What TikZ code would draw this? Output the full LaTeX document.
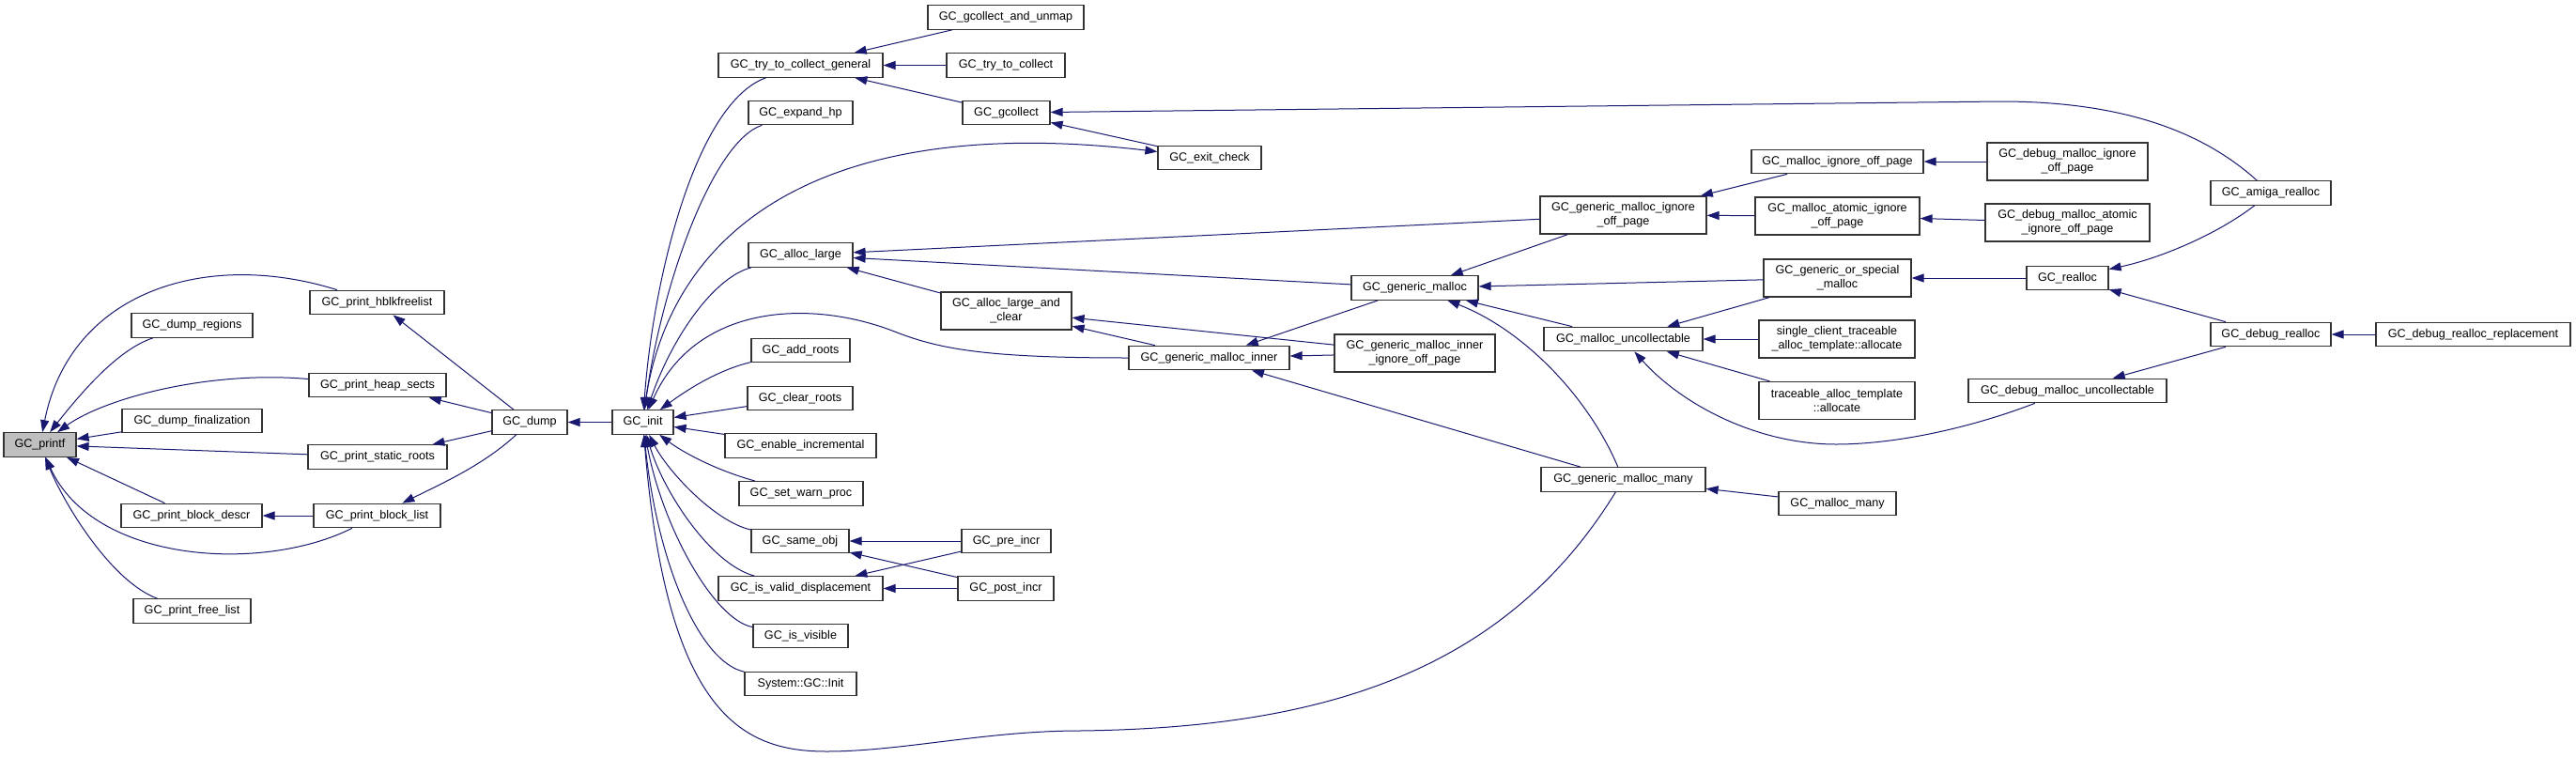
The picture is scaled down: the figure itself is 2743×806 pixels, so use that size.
\documentclass[tikz,border=0pt]{standalone}
\usepackage{fontspec}
\setmainfont{Liberation Sans}
\usetikzlibrary{arrows.meta}
\definecolor{edgecol}{HTML}{191970}
\definecolor{boxline}{HTML}{333333}
\definecolor{hlfill}{HTML}{BFBFBF}
\begin{document}
\begin{tikzpicture}[x=1pt,y=-1pt,
  font=\fontsize{12.6}{15}\selectfont,
  fn/.style={draw=boxline, line width=1.2pt, fill=white, inner sep=0pt,
             minimum height=25.5pt, align=center, rectangle},
  fntwo/.style={fn, minimum height=40pt},
  calledge/.style={draw=edgecol, line width=1pt, -{Triangle[length=13pt,width=9pt]}}]
\fill[white] (0,0) rectangle (2743,806);
\useasboundingbox (0,0) rectangle (2743,806);

% ---------- nodes ----------
\node[fn, minimum width=77pt, fill=hlfill] (printf) at (42.5,473.5) {GC\_printf};
\node[fn, minimum width=143pt] (hblk) at (401.5,322) {GC\_print\_hblkfreelist};
\node[fn, minimum width=129pt] (dumpreg) at (204.5,346.5) {GC\_dump\_regions};
\node[fn, minimum width=146pt] (heap) at (402,410) {GC\_print\_heap\_sects};
\node[fn, minimum width=149pt] (dumpfin) at (204.5,448) {GC\_dump\_finalization};
\node[fn, minimum width=148pt] (static) at (402,486.5) {GC\_print\_static\_roots};
\node[fn, minimum width=150pt] (bdescr) at (204,549) {GC\_print\_block\_descr};
\node[fn, minimum width=135pt] (blist) at (401.5,549) {GC\_print\_block\_list};
\node[fn, minimum width=125pt] (free) at (204.5,650.5) {GC\_print\_free\_list};
\node[fn, minimum width=80pt] (dump) at (564,449.5) {GC\_dump};
\node[fn, minimum width=65pt] (init) at (684.5,449.5) {GC\_init};

\node[fn, minimum width=166pt] (unmap) at (1071,18.5) {GC\_gcollect\_and\_unmap};
\node[fn, minimum width=175pt] (tcg) at (852.5,69.5) {GC\_try\_to\_collect\_general};
\node[fn, minimum width=126pt] (ttc) at (1071,69.5) {GC\_try\_to\_collect};
\node[fn, minimum width=111pt] (expand) at (852.5,120) {GC\_expand\_hp};
\node[fn, minimum width=93pt] (gcollect) at (1071.5,120) {GC\_gcollect};
\node[fn, minimum width=110pt] (exitc) at (1288,168) {GC\_exit\_check};
\node[fn, minimum width=111pt] (alarge) at (852.5,271.5) {GC\_alloc\_large};
\node[fntwo, minimum width=139pt] (alac) at (1071.5,331) {GC\_alloc\_large\_and\\\_clear};
\node[fn, minimum width=171pt] (gmi) at (1287.5,381) {GC\_generic\_malloc\_inner};
\node[fn, minimum width=105pt] (addr) at (852.5,373) {GC\_add\_roots};
\node[fn, minimum width=112pt] (clearr) at (852,424) {GC\_clear\_roots};
\node[fn, minimum width=161pt] (enable) at (852.5,474.5) {GC\_enable\_incremental};
\node[fn, minimum width=132pt] (setwarn) at (853,525.5) {GC\_set\_warn\_proc};
\node[fn, minimum width=104pt] (same) at (852,576) {GC\_same\_obj};
\node[fn, minimum width=95pt] (pre) at (1071.5,576) {GC\_pre\_incr};
\node[fn, minimum width=175pt] (valid) at (852.5,626.5) {GC\_is\_valid\_displacement};
\node[fn, minimum width=102pt] (post) at (1071,626.5) {GC\_post\_incr};
\node[fn, minimum width=101pt] (visible) at (852.5,677) {GC\_is\_visible};
\node[fn, minimum width=119pt] (sysinit) at (852.5,728) {System::GC::Init};

\node[fn, minimum width=183pt] (mio) at (1956.5,172) {GC\_malloc\_ignore\_off\_page};
\node[fntwo, minimum width=177pt] (gmio) at (1728.5,229) {GC\_generic\_malloc\_ignore\\\_off\_page};
\node[fntwo, minimum width=175pt] (maio) at (1956.5,230) {GC\_malloc\_atomic\_ignore\\\_off\_page};
\node[fn, minimum width=135pt] (gm) at (1506.5,306.5) {GC\_generic\_malloc};
\node[fntwo, minimum width=157pt] (gosm) at (1956.5,296) {GC\_generic\_or\_special\\\_malloc};
\node[fn, minimum width=169pt] (mu) at (1728.5,361) {GC\_malloc\_uncollectable};
\node[fntwo, minimum width=166pt] (sct) at (1956,361) {single\_client\_traceable\\\_alloc\_template::allocate};
\node[fntwo, minimum width=171pt] (gmiio) at (1506.5,376) {GC\_generic\_malloc\_inner\\\_ignore\_off\_page};
\node[fntwo, minimum width=166pt] (tat) at (1956,426.5) {traceable\_alloc\_template\\::allocate};
\node[fn, minimum width=175pt] (gmm) at (1728.5,510.5) {GC\_generic\_malloc\_many};
\node[fn, minimum width=125pt] (mm) at (1956.5,536) {GC\_malloc\_many};
\node[fntwo, minimum width=171pt] (dmio) at (2201.5,172) {GC\_debug\_malloc\_ignore\\\_off\_page};
\node[fn, minimum width=128pt] (amiga) at (2418,205.5) {GC\_amiga\_realloc};
\node[fntwo, minimum width=175pt] (dmaio) at (2201.5,237) {GC\_debug\_malloc\_atomic\\\_ignore\_off\_page};
\node[fn, minimum width=87pt] (realloc) at (2201.5,296) {GC\_realloc};
\node[fn, minimum width=128pt] (drealloc) at (2418,356) {GC\_debug\_realloc};
\node[fn, minimum width=207pt] (drr) at (2633.5,356) {GC\_debug\_realloc\_replacement};
\node[fn, minimum width=211pt] (dmu) at (2201.5,416) {GC\_debug\_malloc\_uncollectable};

% ---------- edges into GC_printf ----------
\draw[calledge] (hblk) .. controls (220,265) and (75,310) .. (printf);
\draw[calledge] (dumpreg) .. controls (125,372) and (85,420) .. (printf);
\draw[calledge] (heap) .. controls (220,394) and (110,425) .. (printf);
\draw[calledge] (dumpfin) -- (printf);
\draw[calledge] (static) -- (printf);
\draw[calledge] (bdescr) -- (printf);
\draw[calledge] (blist) .. controls (280,610) and (100,600) .. (printf);
\draw[calledge] (free) .. controls (120,620) and (70,540) .. (printf);

% ---------- GC_dump ----------
\draw[calledge] (dump) -- (hblk);
\draw[calledge] (dump) -- (heap);
\draw[calledge] (dump) -- (static);
\draw[calledge] (dump) .. controls (515,495) and (470,515) .. (blist);
\draw[calledge] (blist) -- (bdescr);
\draw[calledge] (init) -- (dump);

% ---------- edges into GC_init ----------
\draw[calledge] (tcg) .. controls (740,110) and (695,300) .. (init);
\draw[calledge] (expand) .. controls (760,150) and (705,300) .. (init);
\draw[calledge] (init) .. controls (710,240) and (880,120) .. (exitc);
\draw[calledge] (alarge) .. controls (760,295) and (715,360) .. (init);
\draw[calledge] (gmi) .. controls (1050,381) and (1000,372) .. (950,352)
                      .. controls (860,318) and (740,325) .. (init);
\draw[calledge] (addr) .. controls (760,395) and (725,420) .. (init);
\draw[calledge] (clearr) -- (init);
\draw[calledge] (enable) -- (init);
\draw[calledge] (setwarn) .. controls (760,500) and (725,480) .. (init);
\draw[calledge] (same) .. controls (760,555) and (710,500) .. (init);
\draw[calledge] (valid) .. controls (755,600) and (705,520) .. (init);
\draw[calledge] (visible) .. controls (760,660) and (705,560) .. (init);
\draw[calledge] (sysinit) .. controls (745,705) and (700,600) .. (init);
\draw[calledge] (gmm) .. controls (1600,720) and (1400,775) .. (1150,778)
                      .. controls (1050,778) and (960,800) .. (880,800)
                      .. controls (790,800) and (710,760) .. (init);

% ---------- collect group ----------
\draw[calledge] (unmap) -- (tcg);
\draw[calledge] (ttc) -- (tcg);
\draw[calledge] (gcollect) -- (tcg);
\draw[calledge] (exitc) -- (gcollect);
\draw[calledge] (amiga) .. controls (2340,135) and (2250,108) .. (2130,108) -- (gcollect);

% ---------- alloc group ----------
\draw[calledge] (gmio) -- (alarge);
\draw[calledge] (gm) -- (alarge);
\draw[calledge] (alac) -- (alarge);
\draw[calledge] (gmiio) -- (alac);
\draw[calledge] (gmi) -- (alac);
\draw[calledge] (gm) -- (gmi);
\draw[calledge] (gmiio) -- (gmi);
\draw[calledge] (gmm) -- (gmi);
\draw[calledge] (gmio) -- (gm);
\draw[calledge] (gosm) -- (gm);
\draw[calledge] (mu) -- (gm);
\draw[calledge] (gmm) .. controls (1690,420) and (1620,350) .. (gm);
\draw[calledge] (mio) -- (gmio);
\draw[calledge] (maio) -- (gmio);
\draw[calledge] (dmio) -- (mio);
\draw[calledge] (dmaio) -- (maio);
\draw[calledge] (realloc) -- (gosm);
\draw[calledge] (amiga) .. controls (2360,250) and (2300,275) .. (realloc);
\draw[calledge] (drealloc) -- (realloc);
\draw[calledge] (drr) -- (drealloc);
\draw[calledge] (drealloc) -- (dmu);
\draw[calledge] (gosm) -- (mu);
\draw[calledge] (sct) -- (mu);
\draw[calledge] (tat) -- (mu);
\draw[calledge] (dmu) .. controls (2100,455) and (2020,473) .. (1955,473)
                      .. controls (1870,473) and (1790,430) .. (mu);
\draw[calledge] (mm) -- (gmm);

% ---------- incr group ----------
\draw[calledge] (pre) -- (same);
\draw[calledge] (post) -- (same);
\draw[calledge] (pre) -- (valid);
\draw[calledge] (post) -- (valid);
\end{tikzpicture}
\end{document}
